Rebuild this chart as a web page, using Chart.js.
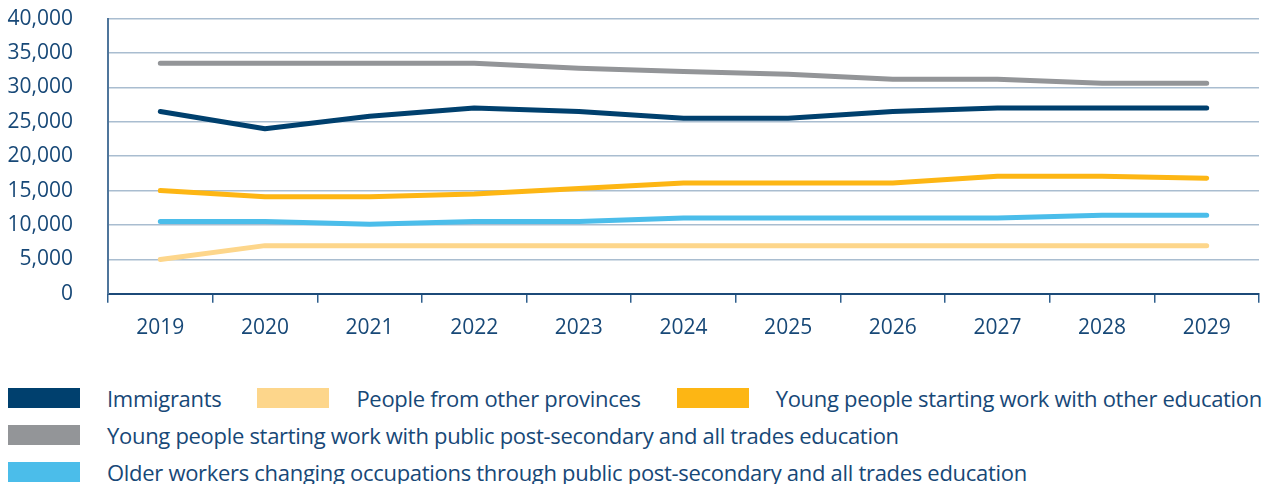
<!DOCTYPE html>
<html lang="en">
<head>
<meta charset="UTF-8">
<title>Labour supply by source</title>
<script src="https://cdn.jsdelivr.net/npm/chart.js"></script>
<style>
    body { margin: 0; background: #fff; font-family: "Open Sans", sans-serif; color: #174877; }
    .wrap { position: relative; width: 1273px; height: 484px; overflow: hidden; }
    #chartBox { position: absolute; left: 0; top: -29px; width: 1273px; height: 383px; }
    .legend { position: absolute; left: 0; top: 379px; width: 1273px; }
    .row { display: flex; align-items: center; height: 37px; }
    .item { display: flex; align-items: center; }
    .swatch { width: 72px; height: 20px; margin-right: 27px; }
    .label { font-size: 22px; letter-spacing: -0.3px; white-space: nowrap; }
</style>
</head>
<body>
<div class="wrap">
    <div id="chartBox"><canvas id="supplyChart"></canvas></div>
    <div class="legend" id="legend"></div>
</div>
<script>
    const years = ['2019', '2020', '2021', '2022', '2023', '2024', '2025', '2026', '2027', '2028', '2029'];

    const immigrants   = [26500, 24000, 25800, 27000, 26500, 25500, 25500, 26500, 27000, 27000, 27000];
    const otherProv    = [5000, 7000, 7000, 7000, 7000, 7000, 7000, 7000, 7000, 7000, 7000];
    const youngOther   = [15000, 14100, 14100, 14500, 15300, 16100, 16100, 16100, 17100, 17100, 16800];
    const youngPublic  = [33500, 33500, 33500, 33500, 32800, 32300, 31900, 31200, 31200, 30600, 30600];
    const olderWorkers = [10500, 10500, 10100, 10500, 10500, 11000, 11000, 11000, 11000, 11400, 11400];

    const yTicks = [0, 5000, 10000, 15000, 20000, 25000, 30000, 35000, 40000];

    const series = [
        { label: 'Immigrants', data: immigrants, color: '#00406e' },
        { label: 'People from other provinces', data: otherProv, color: '#fdd68b' },
        { label: 'Young people starting work with other education', data: youngOther, color: '#fdb614' },
        { label: 'Young people starting work with public post-secondary and all trades education', data: youngPublic, color: '#939598' },
        { label: 'Older workers changing occupations through public post-secondary and all trades education', data: olderWorkers, color: '#4bbdea' }
    ];

    // legend rows like the original: 3 items, then 1, then 1
    const legendRows = [[0, 1, 2], [3], [4]];
    const legendEl = document.getElementById('legend');
    legendRows.forEach(row => {
        const r = document.createElement('div');
        r.className = 'row';
        row.forEach((idx, j) => {
            const it = document.createElement('div');
            it.className = 'item';
            it.style.marginLeft = j > 0 ? '36px' : '8px';
            it.innerHTML = '<span class="swatch" style="background:' + series[idx].color + '"></span><span class="label">' + series[idx].label + '</span>';
            r.appendChild(it);
        });
        legendEl.appendChild(r);
    });

    // draw order: peach first, navy last on top
    const drawOrder = [1, 4, 2, 3, 0];

    new Chart(document.getElementById('supplyChart').getContext('2d'), {
        type: 'line',
        data: {
            labels: years,
            datasets: drawOrder.map(i => ({
                label: series[i].label,
                data: series[i].data,
                borderColor: series[i].color,
                backgroundColor: series[i].color,
                borderWidth: 5,
                borderCapStyle: 'round',
                borderJoinStyle: 'round',
                pointRadius: 0,
                tension: 0,
                fill: false
            }))
        },
        options: {
            responsive: true,
            maintainAspectRatio: false,
            animation: false,
            layout: { padding: { left: 0, right: 14, top: 8, bottom: 0 } },
            plugins: {
                legend: { display: false },
                tooltip: { enabled: false }
            },
            scales: {
                x: {
                    offset: true,
                    grid: { display: true, offset: true, drawOnChartArea: false, drawTicks: true, tickLength: 9, color: '#2f5f8d', lineWidth: 1.5 },
                    border: { display: true, color: '#1c4a78', width: 2 },
                    ticks: { color: '#174877', font: { family: 'Open Sans', size: 21 }, padding: 13 }
                },
                y: {
                    min: 0,
                    max: 40000,
                    afterFit: s => { s.width = 108; },
                    afterBuildTicks: s => { s.ticks = yTicks.map(v => ({ value: v })); },
                    grid: { color: '#a9bdd0', lineWidth: 1.5, drawTicks: false },
                    border: { display: true, color: '#4f759b', width: 2 },
                    ticks: {
                        color: '#174877',
                        font: { family: 'Open Sans', size: 21 },
                        padding: 35,
                        callback: v => v.toLocaleString('en-US')
                    }
                }
            }
        }
    });
</script>
</body>
</html>
